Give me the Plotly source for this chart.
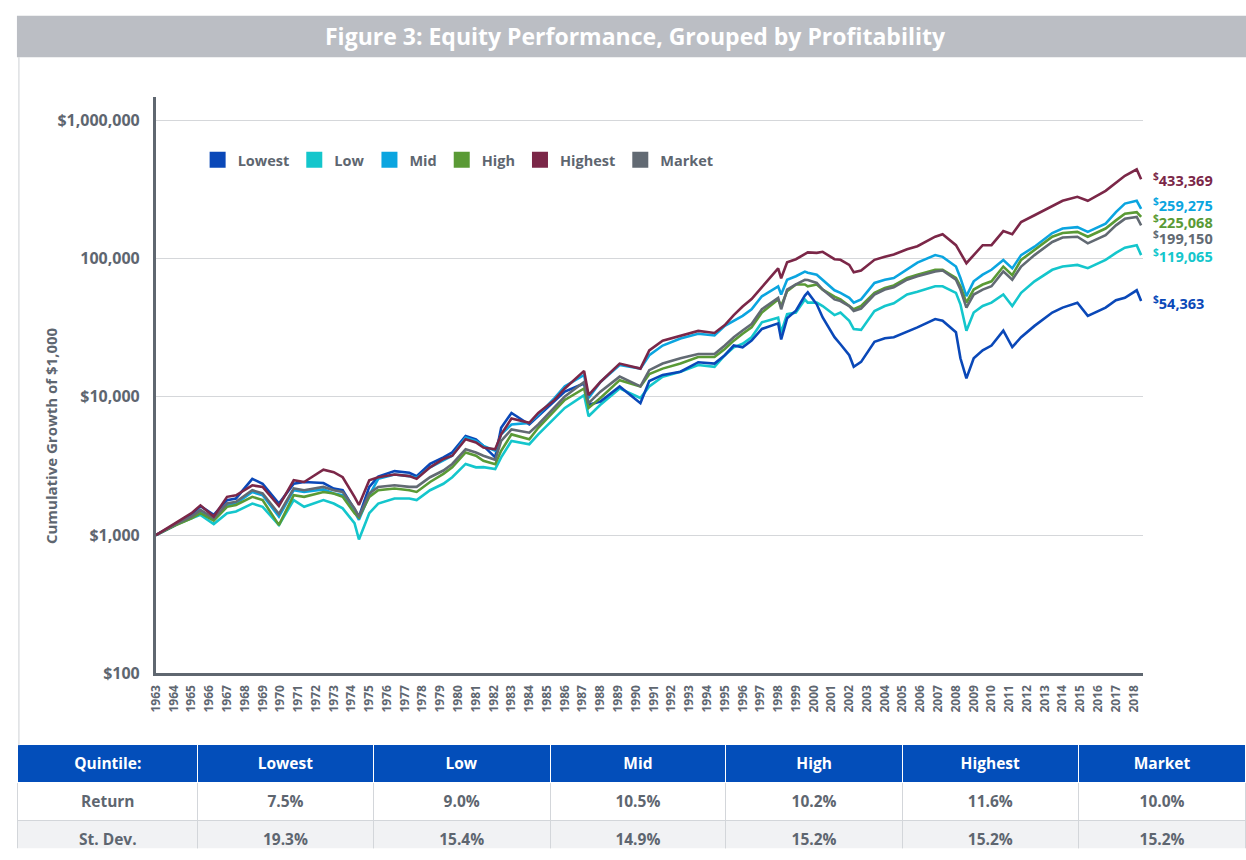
import plotly.graph_objects as go

# ---------------- data ----------------
dates = ["1963-07", "1964-07", "1965-07", "1966-01", "1966-10", "1967-07", "1968-01", "1968-12",
         "1969-07", "1970-06", "1971-04", "1971-11", "1972-12", "1973-07", "1974-01", "1974-09",
         "1974-12", "1975-07", "1976-01", "1976-12", "1977-10", "1978-03", "1978-12", "1979-09",
         "1980-03", "1980-12", "1981-07", "1981-12", "1982-08", "1982-12", "1983-07", "1984-07",
         "1985-01", "1985-12", "1986-07", "1987-08", "1987-11", "1988-07", "1989-08", "1990-10",
         "1991-04", "1992-01", "1993-01", "1994-01", "1994-12", "1995-07", "1996-01", "1996-07",
         "1997-01", "1997-08", "1998-07", "1998-09", "1999-01", "1999-07", "2000-01", "2000-03",
         "2000-09", "2001-01", "2001-09", "2002-01", "2002-07", "2002-10", "2003-03", "2003-12",
         "2004-07", "2005-01", "2005-10", "2006-05", "2007-05", "2007-10", "2008-07", "2008-10",
         "2009-02", "2009-07", "2010-01", "2010-07", "2011-03", "2011-09", "2012-03", "2012-12",
         "2013-12", "2014-07", "2015-05", "2015-12", "2016-12", "2017-07", "2018-01", "2018-09",
         "2018-12"]

lowest = [1000, 1160, 1400, 1620, 1400, 1790, 1840, 2550, 2350, 1690, 2350, 2420, 2380, 2170, 2110, 1520,
          1360, 2230, 2650, 2900, 2820, 2670, 3270, 3650, 3960, 5200, 4930, 4420, 3650, 5970, 7650, 6310,
          7230, 9250, 10900, 12500, 8760, 9250, 11900, 9000, 13000, 14400, 15200, 17800, 17400, 20000,
          23500, 22800, 25500, 31000, 34000, 26000, 37000, 42000, 54000, 57000, 46700, 37500, 27000,
          24000, 20000, 16500, 17900, 25000, 26500, 27000, 29500, 31800, 36500, 35500, 29300, 19000,
          13600, 19000, 21700, 23500, 30100, 22900, 27000, 32600, 40700, 44200, 48000, 38500, 44200,
          50000, 52100, 59000, 49300]

low = [1000, 1170, 1320, 1400, 1200, 1440, 1480, 1690, 1600, 1180, 1790, 1600, 1790, 1690, 1560, 1220,
       930, 1440, 1690, 1840, 1840, 1790, 2110, 2350, 2620, 3270, 3090, 3100, 3000, 3650, 4800, 4540,
       5350, 7040, 8310, 10300, 7230, 8760, 11500, 9800, 11900, 14000, 15200, 17000, 16500, 20000,
       22800, 24200, 27000, 34600, 37400, 29200, 39600, 40700, 50600, 48000, 48000, 45400, 39000,
       40700, 35500, 30900, 30500, 41800, 45400, 47500, 55000, 57500, 63100, 63100, 56500, 46700,
       30100, 40700, 45400, 48000, 55000, 45400, 56500, 68500, 83000, 87600, 90000, 85300, 97800,
       110000, 120000, 125000, 106000]

mid = [1000, 1180, 1360, 1480, 1310, 1650, 1690, 2050, 1940, 1360, 2110, 2050, 2140, 2000, 1940, 1480,
       1290, 1940, 2550, 2740, 2670, 2600, 3090, 3450, 3750, 5070, 4800, 4420, 4070, 5350, 6310, 6480,
       7400, 9800, 11900, 14400, 9800, 12800, 17000, 16000, 20000, 23500, 26400, 28600, 27800, 32600,
       35400, 38500, 43000, 53400, 63000, 55000, 70300, 74500, 80500, 79000, 76500, 70400, 59000,
       56500, 52000, 48000, 50700, 66700, 70400, 72400, 84000, 93600, 106000, 103000, 87600, 72400,
       53500, 68500, 76500, 83000, 97800, 85000, 106000, 122000, 153000, 165000, 169000, 156000,
       179000, 217000, 250000, 262000, 229000]

high = [1000, 1160, 1320, 1440, 1270, 1600, 1650, 1890, 1790, 1180, 1940, 1890, 2050, 2000, 1890, 1440,
        1340, 1890, 2110, 2170, 2110, 2050, 2420, 2770, 3090, 3960, 3750, 3450, 3250, 4070, 5350, 4930,
        5970, 7850, 9500, 11500, 8310, 9800, 13200, 11900, 14600, 16000, 17400, 19400, 19400, 22200,
        25500, 28600, 31800, 40700, 50600, 45400, 58000, 65000, 65000, 63000, 64900, 59700, 53000,
        50700, 45400, 43000, 45400, 56500, 61400, 64000, 72400, 76500, 83000, 83000, 72400, 63100,
        48000, 59700, 64900, 68500, 87600, 76000, 97800, 115000, 144000, 153000, 156000, 144000,
        165000, 189000, 211000, 217000, 200000]

highest = [1000, 1200, 1440, 1640, 1360, 1890, 1940, 2290, 2230, 1620, 2490, 2420, 2970, 2850, 2620, 1890,
           1650, 2490, 2620, 2740, 2670, 2550, 3090, 3550, 3750, 4930, 4670, 4300, 4180, 5350, 6960, 6480,
           7650, 9500, 11500, 15400, 10300, 12800, 17400, 16000, 21700, 25500, 27800, 30000, 29000, 33000,
           39000, 45000, 51000, 62000, 85000, 72000, 94000, 99000, 108000, 111000, 110000, 112000, 99000,
           98000, 90000, 79500, 82000, 98000, 103000, 107000, 117000, 123000, 144000, 150000, 125000,
           109000, 92600, 106000, 125000, 125000, 158000, 150000, 184000, 206000, 240000, 262000, 280000,
           262000, 309000, 355000, 397000, 442000, 375000]

market = [1000, 1180, 1360, 1520, 1320, 1690, 1740, 2110, 2000, 1420, 2170, 2110, 2230, 2110, 2050, 1560,
          1360, 2000, 2230, 2290, 2230, 2230, 2620, 2930, 3270, 4180, 3960, 3750, 3500, 4800, 5810, 5500,
          6310, 8310, 10050, 12800, 9000, 10900, 14000, 11900, 15600, 17400, 19000, 20400, 20400, 23500,
          27000, 30200, 33600, 43000, 52000, 43000, 59600, 65000, 70300, 70000, 66700, 59700, 50700,
          49300, 45400, 41800, 43500, 55000, 59700, 62000, 70400, 74400, 80800, 82000, 70400, 59700,
          44200, 55000, 59700, 63100, 80800, 70400, 87600, 106000, 132000, 142000, 144000, 129000,
          148000, 174000, 194000, 200000, 174000]

series_names = ["Lowest", "Low", "Mid", "High", "Highest", "Market"]
series_values = [lowest, low, mid, high, highest, market]
series_colors = ["#0A48B8", "#14C6CC", "#0BA5E0", "#5A9A35", "#7B2748", "#626A73"]

end_labels = ["54,363", "119,065", "259,275", "225,068", "433,369", "199,150"]
end_label_px = [306, 259, 207, 224, 182, 241]   # vertical pixel positions of the end labels

year_ticks = list(range(1963, 2019))
y_tickvals = [100, 1000, 10000, 100000, 1000000]
y_ticktext = ["$100", "$1,000", "$10,000", "100,000", "$1,000,000"]

table_header = ["Quintile:"] + series_names
returns = ["7.5%", "9.0%", "10.5%", "10.2%", "11.6%", "10.0%"]
stdevs = ["19.3%", "15.4%", "14.9%", "15.2%", "15.2%", "15.2%"]

# ---------------- figure ----------------
W, H = 1246, 860
FONT = "Open Sans"
GRAY = "#5E6670"

fig = go.Figure()

draw_order = [1, 0, 2, 3, 5, 4]
for i in draw_order:
    fig.add_trace(go.Scatter(
        x=dates, y=series_values[i], mode="lines",
        line=dict(color=series_colors[i], width=2.6),
        showlegend=False, hoverinfo="skip"))

# legend entries (square markers)
for name, col in zip(series_names, series_colors):
    fig.add_trace(go.Scatter(
        x=[None], y=[None], mode="markers", name=name,
        marker=dict(symbol="square", size=16, color=col),
        showlegend=True))

# end labels
for lab, col, py in zip(end_labels, series_colors, end_label_px):
    fig.add_annotation(
        x=1150 / W, y=1 - py / H, xref="paper", yref="paper",
        xanchor="left", yanchor="middle", showarrow=False,
        text="<sup>$</sup>" + lab,
        font=dict(family=FONT, size=14.5, color=col, weight="bold"))

# title bar
fig.add_shape(type="rect", xref="paper", yref="paper",
              x0=8 / W, x1=1, y0=1 - 58 / H, y1=1 - 16 / H,
              fillcolor="#BBBEC4", line=dict(width=0), layer="below")
fig.add_annotation(x=631 / W, y=1 - 36 / H, xref="paper", yref="paper",
                   showarrow=False, xanchor="center", yanchor="middle",
                   text="Figure 3: Equity Performance, Grouped by Profitability",
                   font=dict(family=FONT, size=23, color="white", weight="bold"))
# left border line
fig.add_shape(type="line", xref="paper", yref="paper",
              x0=10 / W, x1=10 / W, y0=1 - 755 / H, y1=1 - 58 / H,
              line=dict(color="#CDD0D4", width=1))

# y-axis title
fig.add_annotation(x=43 / W, y=1 - 441 / H, xref="paper", yref="paper",
                   showarrow=False, textangle=-90, xanchor="center", yanchor="middle",
                   text="Cumulative Growth of $1,000",
                   font=dict(family=FONT, size=15, color=GRAY, weight="bold"))

# table
fig.add_trace(go.Table(
    domain=dict(x=[9 / W, 1], y=[0, 1 - 754 / H]),
    columnwidth=[181, 177, 178, 177, 178, 177, 169],
    header=dict(values=["<b>" + h + "</b>" for h in table_header],
                fill_color="#034EBA", line=dict(color="white", width=1),
                font=dict(family=FONT, size=15.5, color="white"),
                align="center", height=34),
    cells=dict(values=[["<b>Return</b>", "<b>St. Dev.</b>"]] +
                      [["<b>" + r + "</b>", "<b>" + s + "</b>"] for r, s in zip(returns, stdevs)],
               fill_color=[["white", "#F1F2F4"]] * 7,
               line=dict(color="#D3D6DA", width=1),
               font=dict(family=FONT, size=15.5, color=GRAY),
               align="center", height=33)))

fig.update_layout(
    width=W, height=H, margin=dict(l=0, r=0, t=0, b=0),
    paper_bgcolor="white", plot_bgcolor="white",
    font=dict(family=FONT, color=GRAY),
    legend=dict(orientation="h", x=190 / W, y=1 - 162 / H, xanchor="left", yanchor="middle",
                font=dict(family=FONT, size=14.5, color=GRAY, weight="bold"),
                bgcolor="rgba(0,0,0,0)", itemclick=False, itemdoubleclick=False,
                tracegroupgap=0),
    xaxis=dict(domain=[148 / W, 1142 / W], type="date",
               range=["1963-07-01", "2019-01-03"],
               tickmode="array",
               tickvals=[f"{y}-07-01" for y in year_ticks],
               ticktext=[str(y) for y in year_ticks],
               tickangle=-90, showgrid=False, zeroline=False,
               showline=True, linecolor="#5F6770", linewidth=3,
               ticks="", ticklabelstandoff=4,
               tickfont=dict(family=FONT, size=12, color=GRAY, weight="bold")),
    yaxis=dict(domain=[1 - 682 / H, 1 - 98 / H], type="log",
               range=[2, 6.171],
               tickmode="array", tickvals=y_tickvals, ticktext=y_ticktext,
               showgrid=True, gridcolor="#D5D7DA", gridwidth=1, zeroline=False,
               showline=True, linecolor="#5F6770", linewidth=3,
               ticks="", ticklabelstandoff=10,
               tickfont=dict(family=FONT, size=16, color=GRAY, weight="bold")),
)

fig.write_html("out.html",
               config={"displayModeBar": False},
               post_script="document.body.style.margin='0px';document.body.style.overflow='hidden';")
